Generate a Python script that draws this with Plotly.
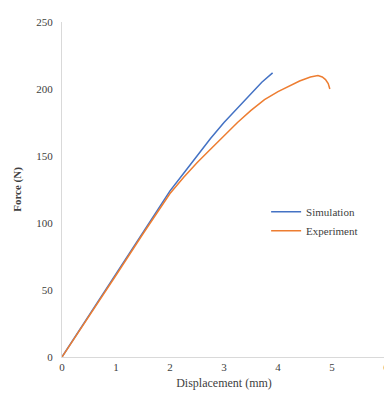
import plotly.graph_objects as go

sim_x = [0, 0.5, 1.0, 1.5, 2.0, 2.25, 2.5, 2.75, 3.0, 3.25, 3.5, 3.7, 3.9]
sim_y = [0, 31, 61, 92, 124, 137, 150, 163, 175, 186, 197, 205, 212]

exp_x = [0, 0.5, 1.0, 1.5, 2.0, 2.25, 2.5, 2.75, 3.0, 3.25, 3.5, 3.75, 4.0, 4.2, 4.4, 4.6, 4.74, 4.82, 4.88, 4.93, 4.96]
exp_y = [0, 30, 61, 92, 122, 134, 145, 155, 165, 175, 184, 192, 198, 202, 206, 209, 210, 209, 207, 204, 200]

x_ticks = [0, 1, 2, 3, 4, 5, 6]
y_ticks = [0, 50, 100, 150, 200, 250]

font_family = "Liberation Serif"
txt = "#404040"

fig = go.Figure()
fig.add_trace(go.Scatter(x=sim_x, y=sim_y, mode="lines", name="Simulation",
                         line=dict(color="#4472C4", width=1.5)))
fig.add_trace(go.Scatter(x=exp_x, y=exp_y, mode="lines", name="Experiment",
                         line=dict(color="#ED7D31", width=1.5)))

# page body has an 8px default margin, so the figure is sized to fit the window
fig.update_layout(
    width=384, height=402,
    margin=dict(l=54, r=6, t=14, b=53),
    paper_bgcolor="white", plot_bgcolor="white",
    font=dict(family=font_family, size=11, color=txt),
    showlegend=True,
    legend=dict(x=0.63, y=0.405, xanchor="left", yanchor="middle",
                bgcolor="rgba(0,0,0,0)", font=dict(family=font_family, size=11, color=txt),
                tracegroupgap=0, itemwidth=30),
    xaxis=dict(range=[0, 6], tickvals=x_ticks, showgrid=False, zeroline=False,
               showline=True, linecolor="#D9D9D9", linewidth=1, ticks="",
               automargin=False,
               title=dict(text="Displacement (mm)", font=dict(family=font_family, size=12, color=txt), standoff=6),
               tickfont=dict(family=font_family, size=11, color=txt)),
    yaxis=dict(range=[0, 250], tickvals=y_ticks, showgrid=False, zeroline=False,
               showline=True, linecolor="#D9D9D9", linewidth=1, ticks="",
               automargin=False, ticklabelstandoff=6,
               title=dict(text="<b>Force (N)</b>", font=dict(family=font_family, size=11, color=txt), standoff=12),
               tickfont=dict(family=font_family, size=11, color=txt)),
)

fig.write_html("out.html")
